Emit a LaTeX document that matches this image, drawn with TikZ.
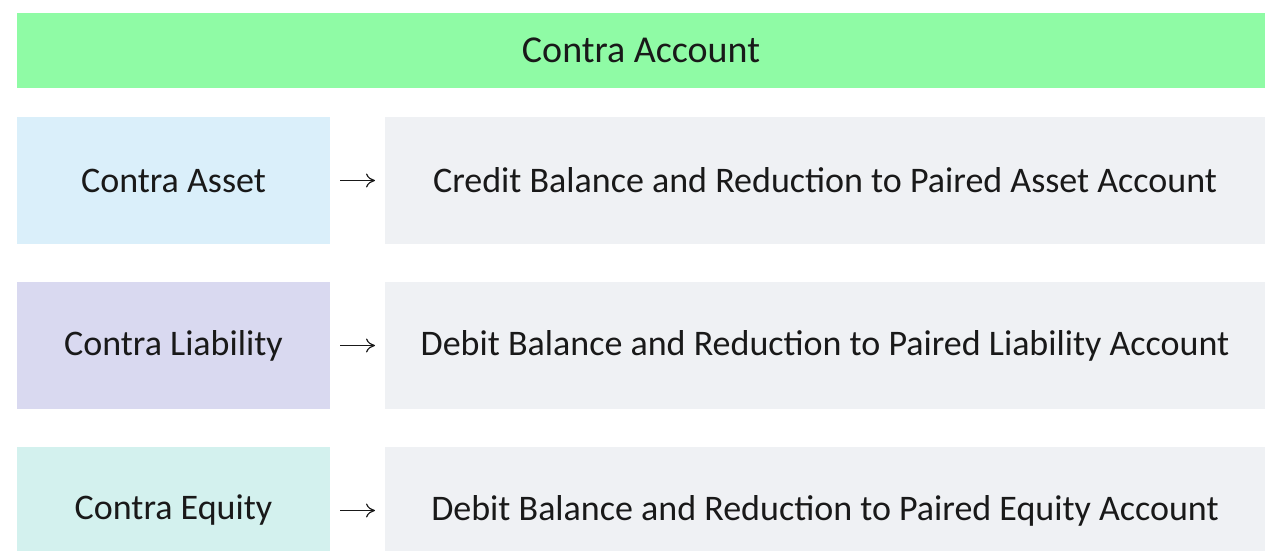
\documentclass[tikz,border=0pt]{standalone}
\usepackage{fontspec}
\setmainfont{Carlito}
\usetikzlibrary{arrows.meta}
\definecolor{hdr}{HTML}{8FFBA5}
\definecolor{cblue}{HTML}{DAEFFA}
\definecolor{clav}{HTML}{D9D9F0}
\definecolor{cteal}{HTML}{D3F1EE}
\definecolor{cgray}{HTML}{EFF1F4}
\tikzset{
  box/.style={draw=none, inner sep=0pt, outer sep=0pt, font=\fontsize{36}{42}\selectfont, text=black!90},
  leftbox/.style={box, minimum width=313pt, minimum height=127pt},
  rightbox/.style={box, minimum width=880pt, minimum height=127pt},
  conn/.style={-{To[length=9pt,width=14pt]}, line width=1.2pt, black!90, shorten <=10pt, shorten >=10pt}
}
\begin{document}
\begin{tikzpicture}[x=1pt,y=-1pt]
\clip (0,0) rectangle (1280,550);
\fill[white] (0,0) rectangle (1280,550);
\node[box, fill=hdr, minimum width=1248pt, minimum height=75pt, font=\fontsize{38}{44}\selectfont] (title) at (641,50.5) {Contra Account};
\node[leftbox, fill=cblue] (l1) at (173.5,180.5) {Contra Asset};
\node[rightbox, fill=cgray] (r1) at (825,180.5) {Credit Balance and Reduction to Paired Asset Account};
\node[leftbox, fill=clav] (l2) at (173.5,345.5) {Contra Liability};
\node[rightbox, fill=cgray] (r2) at (825,345.5) {Debit Balance and Reduction to Paired Liability Account};
\node[leftbox, fill=cteal] (l3) at (173.5,510.5) {Contra Equity};
\node[rightbox, fill=cgray] (r3) at (825,510.5) {Debit Balance and Reduction to Paired Equity Account};
\draw[conn] (l1.east) -- (r1.west);
\draw[conn] (l2.east) -- (r2.west);
\draw[conn] (l3.east) -- (r3.west);
\end{tikzpicture}
\end{document}
